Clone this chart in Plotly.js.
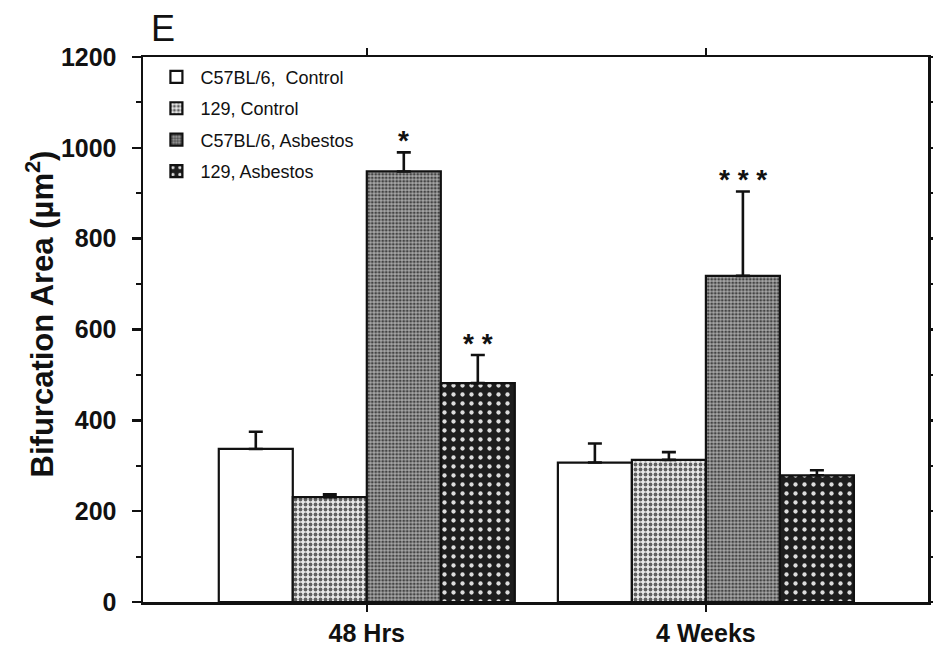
<!DOCTYPE html>
<html>
<head>
<meta charset="utf-8">
<script src="https://cdn.plot.ly/plotly-3.0.1.min.js"></script>
<style>html,body{margin:0;padding:0;background:#fff;}#chart{width:933px;height:647px;}</style>
</head>
<body>
<div id="chart"></div>
<script>
var categories = ["48 Hrs", "4 Weeks"];
var seriesNames = ["C57BL/6,  Control", "129, Control", "C57BL/6, Asbestos", "129, Asbestos"];
var c57Control = [337, 307];
var c57ControlErr = [38, 42];
var c129Control = [231, 313];
var c129ControlErr = [6, 17];
var c57Asbestos = [948, 718];
var c57AsbestosErr = [42, 186];
var c129Asbestos = [482, 279];
var c129AsbestosErr = [62, 11];
var significance = [["", ""], ["", ""], ["*", "* * *"], ["* *", ""]];
var yTicks = [0, 200, 400, 600, 800, 1000, 1200];
var yTitle = "Bifurcation Area (µm<sup>2</sup>)";

var FONT = "Liberation Sans, Arial, Helvetica, sans-serif";
var values = [c57Control, c129Control, c57Asbestos, c129Asbestos];
var errs = [c57ControlErr, c129ControlErr, c57AsbestosErr, c129AsbestosErr];
var styles = [
  {color: "#ffffff", pattern: {shape: ""}},
  {color: "#d8d8d8", pattern: {shape: ".", fgcolor: "#606060", bgcolor: "#e8e8e8", size: 5, solidity: 0.45, fillmode: "replace"}},
  {color: "#808080", pattern: {shape: ".", fgcolor: "#444444", bgcolor: "#a8a8a8", size: 3.5, solidity: 0.5, fillmode: "replace"}},
  {color: "#222222", pattern: {shape: ".", fgcolor: "#dddddd", bgcolor: "#1e1e1e", size: 9, solidity: 0.18, fillmode: "replace"}}
];

var traces = values.map(function (v, i) {
  return {
    type: "bar",
    name: seriesNames[i],
    legendgroup: "g" + i,
    x: categories,
    y: v,
    marker: {color: styles[i].color, pattern: styles[i].pattern, line: {color: "#111", width: 2.2}},
    error_y: {type: "data", array: errs[i], arrayminus: v.map(function(){return 0;}), symmetric: false,
              color: "#111", thickness: 2.6, width: 7}
  };
});

var bargap = 0.127;
var nSeries = values.length;
var annotations = [];
for (var s = 0; s < nSeries; s++) {
  for (var c = 0; c < categories.length; c++) {
    if (significance[s][c]) {
      var off = (s - (nSeries - 1) / 2) * (1 - bargap) / nSeries;
      annotations.push({
        x: c + off, y: values[s][c] + errs[s][c], xref: "x", yref: "y",
        text: significance[s][c], showarrow: false, yanchor: "bottom", yshift: -6,
        font: {family: FONT, size: 28, color: "#111", weight: "bold"}
      });
    }
  }
}
annotations.push({
  x: 0.008, y: 1, xref: "paper", yref: "paper", xanchor: "left", yanchor: "bottom", yshift: 6,
  text: "E", showarrow: false, font: {family: FONT, size: 36, color: "#111"}
});
annotations.push({
  x: -0.131, y: 0.528, xref: "paper", yref: "paper", xanchor: "center", yanchor: "middle",
  textangle: -90, text: yTitle, showarrow: false,
  font: {family: FONT, size: 31, color: "#111", weight: "bold"}
});

var layout = {
  width: 933, height: 647,
  margin: {l: 143, r: 5, t: 57, b: 45},
  paper_bgcolor: "#fff", plot_bgcolor: "#fff",
  barmode: "group", bargap: bargap, bargroupgap: 0,
  showlegend: true,
  legend: {x: 0.012, y: 0.997, xanchor: "left", yanchor: "top", bgcolor: "rgba(255,255,255,0)",
           font: {family: FONT, size: 18, color: "#111"},
           tracegroupgap: 5, itemwidth: 38, traceorder: "grouped"},
  xaxis: {
    type: "category", range: [-0.66, 1.655],
    showline: true, linecolor: "#111", linewidth: 2.5, mirror: "ticks",
    ticks: "outside", ticklen: 7, tickwidth: 2.5, tickcolor: "#111",
    tickfont: {family: FONT, size: 25, color: "#111", weight: "bold"},
    showgrid: false, zeroline: false
  },
  yaxis: {
    range: [0, 1200], tickvals: yTicks, ticktext: yTicks.map(String),
    showline: true, linecolor: "#111", linewidth: 2.5, mirror: "ticks",
    ticks: "outside", ticklen: 9, tickwidth: 2.5, tickcolor: "#111", ticklabelstandoff: 10,
    minor: {dtick: 100, ticks: "outside", ticklen: 5, tickwidth: 2, tickcolor: "#111", showgrid: false},
    tickfont: {family: FONT, size: 25, color: "#111", weight: "bold"},
    showgrid: false, zeroline: false
  },
  annotations: annotations
};

Plotly.newPlot("chart", traces, layout, {displayModeBar: false, staticPlot: true});
</script>
</body>
</html>
